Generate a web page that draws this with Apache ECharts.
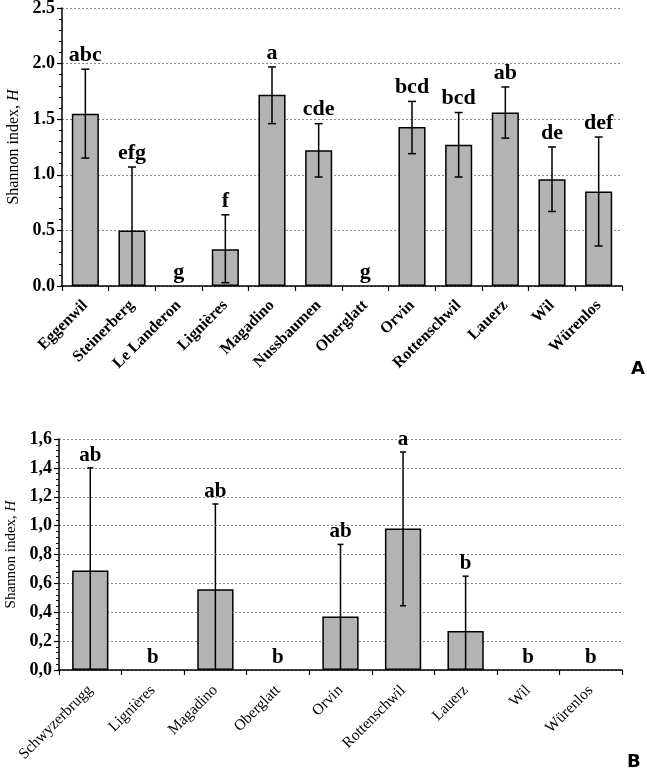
<!DOCTYPE html>
<html>
<head>
<meta charset="utf-8">
<script src="https://cdn.jsdelivr.net/npm/echarts@6/dist/echarts.min.js"></script>
<style>
  html, body { margin: 0; padding: 0; background: #fff; }
  #chart { width: 647px; height: 768px; }
</style>
</head>
<body>
<div id="chart"></div>
<script>
// panel A
const catsA = ['Eggenwil', 'Steinerberg', 'Le Landeron', 'Lignières', 'Magadino', 'Nussbaumen',
  'Oberglatt', 'Orvin', 'Rottenschwil', 'Lauerz', 'Wil', 'Würenlos'];
const meanA = [1.55, 0.50, 0, 0.33, 1.72, 1.22, 0, 1.43, 1.27, 1.56, 0.96, 0.85];
const lowA = [1.15, 0, null, 0.03, 1.46, 0.98, null, 1.19, 0.98, 1.33, 0.67, 0.36];
const highA = [1.95, 1.07, null, 0.64, 1.97, 1.46, null, 1.66, 1.56, 1.79, 1.25, 1.34];
const lettersA = ['abc', 'efg', 'g', 'f', 'a', 'cde', 'g', 'bcd', 'bcd', 'ab', 'de', 'def'];

// panel B
const catsB = ['Schwyzerbrugg', 'Lignières', 'Magadino', 'Oberglatt', 'Orvin', 'Rottenschwil',
  'Lauerz', 'Wil', 'Würenlos'];
const meanB = [0.69, 0, 0.56, 0, 0.37, 0.98, 0.27, 0, 0];
const lowB = [0, null, 0, null, 0, 0.445, 0, null, null];
const highB = [1.40, null, 1.15, null, 0.87, 1.51, 0.65, null, null];
const lettersB = ['ab', 'b', 'ab', 'b', 'ab', 'a', 'b', 'b', 'b'];

const serif = '"Liberation Serif", "Times New Roman", serif';

// error bars + significance letters
function errorRenderer(mean, low, high, letters, capW, font, gap) {
  return function (params, api) {
    const i = params.dataIndex;
    const x = api.coord([i, 0])[0];
    const children = [];
    let top = api.coord([i, mean[i]])[1];
    if (high[i] != null) {
      const yHi = api.coord([i, high[i]])[1];
      const yLo = api.coord([i, low[i]])[1];
      top = yHi;
      const ln = { stroke: '#000', lineWidth: 1.5 };
      children.push({ type: 'line', shape: { x1: x, y1: yHi, x2: x, y2: yLo }, style: ln });
      children.push({ type: 'line', shape: { x1: x - capW / 2, y1: yHi, x2: x + capW / 2, y2: yHi }, style: ln });
      if (low[i] > 0) {
        children.push({ type: 'line', shape: { x1: x - capW / 2, y1: yLo, x2: x + capW / 2, y2: yLo }, style: ln });
      }
    }
    children.push({
      type: 'text',
      x: x,
      y: top - gap,
      style: { text: letters[i], align: 'center', verticalAlign: 'bottom', font: font, fill: '#000' }
    });
    return { type: 'group', children: children };
  };
}

function yAxisCfg(gridIndex, max, interval, nameSize, nameGap, fmt) {
  return {
    type: 'value',
    gridIndex: gridIndex,
    min: 0,
    max: max,
    interval: interval,
    name: '{n|Shannon index, }{i|H}',
    nameLocation: 'middle',
    nameGap: nameGap,
    nameTextStyle: {
      rich: {
        n: { fontFamily: serif, fontSize: nameSize, color: '#000' },
        i: { fontFamily: serif, fontSize: nameSize, fontStyle: 'italic', color: '#000' }
      }
    },
    axisLine: { show: true, lineStyle: { color: '#000', width: 1.5 } },
    axisTick: { show: true, length: 5, lineStyle: { color: '#000', width: 1.2 } },
    minorTick: { show: true, splitNumber: 5, length: 3, lineStyle: { color: '#000', width: 1 } },
    axisLabel: {
      fontFamily: serif, fontSize: 18, fontWeight: 'bold', color: '#000', margin: 7,
      formatter: fmt
    },
    splitLine: { show: true, lineStyle: { color: '#8a8a8a', width: 1, type: [2, 2] } }
  };
}

function xAxisCfg(gridIndex, cats, fontSize, weight, margin) {
  return {
    type: 'category',
    gridIndex: gridIndex,
    data: cats,
    boundaryGap: true,
    axisLine: { lineStyle: { color: '#000', width: 1.5 } },
    axisTick: { show: true, length: 5, alignWithLabel: false, lineStyle: { color: '#000', width: 1.2 } },
    axisLabel: {
      rotate: 45, interval: 0, margin: margin,
      fontFamily: serif, fontSize: fontSize, fontWeight: weight, color: '#000'
    }
  };
}

const barStyle = { color: '#b3b3b3', borderColor: '#000', borderWidth: 1.5 };
// zero means draw no bar at all
const barData = arr => arr.map(v => (v === 0 ? '-' : v));

const chart = echarts.init(document.getElementById('chart'));
chart.setOption({
  backgroundColor: '#fff',
  animation: false,
  grid: [
    { left: 62, top: 8, width: 560, height: 278, containLabel: false, outerBoundsMode: 'none' },
    { left: 59, top: 439, width: 563, height: 231, containLabel: false, outerBoundsMode: 'none' }
  ],
  xAxis: [
    xAxisCfg(0, catsA, 16, 'bold', 17),
    xAxisCfg(1, catsB, 15.5, 'normal', 18)
  ],
  yAxis: [
    yAxisCfg(0, 2.5, 0.5, 16, 40, v => v.toFixed(1)),
    yAxisCfg(1, 1.6, 0.2, 15, 37, v => v.toFixed(1).replace('.', ','))
  ],
  series: [
    {
      type: 'bar', xAxisIndex: 0, yAxisIndex: 0, data: barData(meanA),
      barWidth: '58%', itemStyle: barStyle, silent: true
    },
    {
      type: 'custom', xAxisIndex: 0, yAxisIndex: 0, clip: false, silent: true, z: 5,
      data: catsA.map((c, i) => [i, meanA[i]]),
      renderItem: errorRenderer(meanA, lowA, highA, lettersA, 8, 'bold 22px ' + serif, 3)
    },
    {
      type: 'bar', xAxisIndex: 1, yAxisIndex: 1, data: barData(meanB),
      barWidth: '58%', itemStyle: barStyle, silent: true
    },
    {
      type: 'custom', xAxisIndex: 1, yAxisIndex: 1, clip: false, silent: true, z: 5,
      data: catsB.map((c, i) => [i, meanB[i]]),
      renderItem: errorRenderer(meanB, lowB, highB, lettersB, 6, 'bold 21px ' + serif, 2)
    }
  ],
  graphic: [
    { type: 'text', left: 631, top: 360, style: { text: 'A', font: 'bold 18px "DejaVu Sans", sans-serif', fill: '#000' } },
    { type: 'text', left: 627, top: 753, style: { text: 'B', font: 'bold 18px "DejaVu Sans", sans-serif', fill: '#000' } }
  ]
});
</script>
</body>
</html>
